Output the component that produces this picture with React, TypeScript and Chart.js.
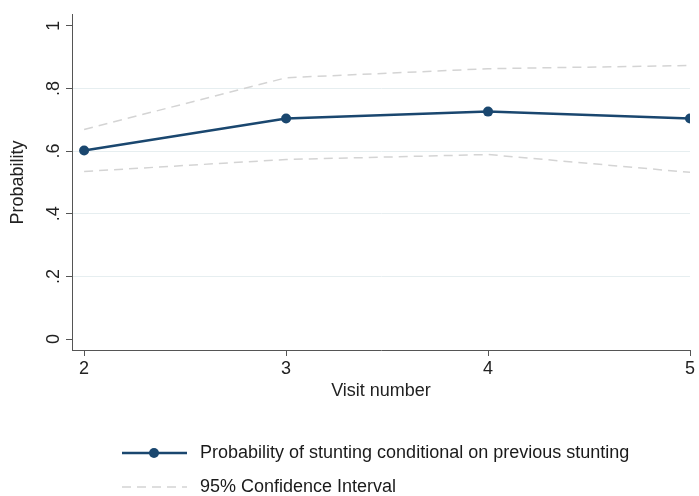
import React, { useEffect, useRef } from "react";
import { Chart, registerables } from "chart.js";

Chart.register(...registerables);

const visits = [2, 3, 4, 5];
const probability = [0.602, 0.704, 0.726, 0.704];
const upperCI = [0.669, 0.834, 0.863, 0.873];
const lowerCI = [0.535, 0.573, 0.589, 0.532];
const yTicks = [0, 0.2, 0.4, 0.6, 0.8, 1];
const yTickLabels = ["0", ".2", ".4", ".6", ".8", "1"];
const legendLabels = [
  "Probability of stunting conditional on previous stunting",
  "95% Confidence Interval",
];

const NAVY = "#1a476f";
const CI_GREY = "#d4d4d4";
const FONT = "'Liberation Sans', Arial, sans-serif";
const FS = 18;

export default function App() {
  const ref = useRef<HTMLCanvasElement>(null);
  useEffect(() => {
    const legendPlugin = {
      id: "customLegend",
      afterDraw(chart: any) {
        const ctx = chart.ctx;
        ctx.save();
        let y = 453;
        ctx.strokeStyle = NAVY;
        ctx.lineWidth = 2.5;
        ctx.setLineDash([]);
        ctx.beginPath();
        ctx.moveTo(122, y);
        ctx.lineTo(187, y);
        ctx.stroke();
        ctx.fillStyle = NAVY;
        ctx.beginPath();
        ctx.arc(154, y, 5, 0, Math.PI * 2);
        ctx.fill();
        ctx.fillStyle = "#1a1a1a";
        ctx.font = `${FS}px ${FONT}`;
        ctx.textBaseline = "middle";
        ctx.textAlign = "left";
        ctx.fillText(legendLabels[0], 200, y);
        y = 487;
        ctx.strokeStyle = CI_GREY;
        ctx.lineWidth = 1.5;
        ctx.setLineDash([9, 6]);
        ctx.beginPath();
        ctx.moveTo(122, y);
        ctx.lineTo(187, y);
        ctx.stroke();
        ctx.setLineDash([]);
        ctx.fillStyle = "#1a1a1a";
        ctx.fillText(legendLabels[1], 200, y);
        ctx.restore();
      },
    };

    const chart = new Chart(ref.current!, {
      type: "line",
      data: {
        datasets: [
          {
            label: legendLabels[1] + " upper",
            data: visits.map((v, i) => ({ x: v, y: upperCI[i] })),
            borderColor: CI_GREY,
            borderWidth: 1.5,
            borderDash: [9, 6],
            pointRadius: 0,
            fill: false,
          },
          {
            label: legendLabels[1] + " lower",
            data: visits.map((v, i) => ({ x: v, y: lowerCI[i] })),
            borderColor: CI_GREY,
            borderWidth: 1.5,
            borderDash: [9, 6],
            pointRadius: 0,
            fill: false,
          },
          {
            label: legendLabels[0],
            data: visits.map((v, i) => ({ x: v, y: probability[i] })),
            borderColor: NAVY,
            backgroundColor: NAVY,
            borderWidth: 2.5,
            pointRadius: 5,
            pointBackgroundColor: NAVY,
            pointBorderWidth: 0,
            fill: false,
          },
        ],
      },
      options: {
        animation: false,
        responsive: false,
        layout: { padding: { top: 14, right: 9, bottom: 86, left: 0 } },
        plugins: { legend: { display: false }, tooltip: { enabled: false } },
        scales: {
          x: {
            type: "linear",
            min: 1.94,
            max: 5,
            afterBuildTicks: (s: any) => {
              s.ticks = visits.map((v) => ({ value: v }));
            },
            afterFit: (s: any) => {
              s.height = 60;
            },
            border: { color: "#555", width: 1 },
            grid: {
              drawOnChartArea: false,
              tickColor: "#555",
              tickLength: 6,
            },
            ticks: {
              color: "#222",
              font: { family: FONT, size: FS },
              padding: 2,
              maxRotation: 0,
              callback: (v: any) => String(v),
            },
            title: {
              display: true,
              text: "Visit number",
              color: "#222",
              font: { family: FONT, size: FS },
              padding: { top: 0, bottom: 8 },
            },
          },
          y: {
            min: -0.035,
            max: 1.035,
            afterBuildTicks: (s: any) => {
              s.ticks = yTicks.map((v) => ({ value: v }));
            },
            afterFit: (s: any) => {
              s.width = 72;
            },
            border: { color: "#555", width: 1 },
            grid: {
              color: (c: any) =>
                c.tick && (c.tick.value === 0 || c.tick.value === 1)
                  ? "rgba(0,0,0,0)"
                  : "#e6eef0",
              tickColor: "#555",
              tickLength: 6,
              lineWidth: 1,
            },
            ticks: {
              color: "#222",
              font: { family: FONT, size: FS },
              minRotation: 90,
              maxRotation: 90,
              crossAlign: "center",
              padding: 4,
              callback: (v: any) => {
                const i = yTicks.indexOf(v);
                return i >= 0 ? yTickLabels[i] : "";
              },
            },
            title: {
              display: true,
              text: "Probability",
              color: "#222",
              font: { family: FONT, size: FS },
              padding: { top: 7, bottom: 3 },
            },
          },
        },
      },
      plugins: [legendPlugin],
    } as any);
    return () => chart.destroy();
  }, []);
  return (
    <div style={{ position: "absolute", left: 0, top: 0, width: 699, height: 496, background: "#fff" }}>
      <canvas ref={ref} width={699} height={496} />
    </div>
  );
}
